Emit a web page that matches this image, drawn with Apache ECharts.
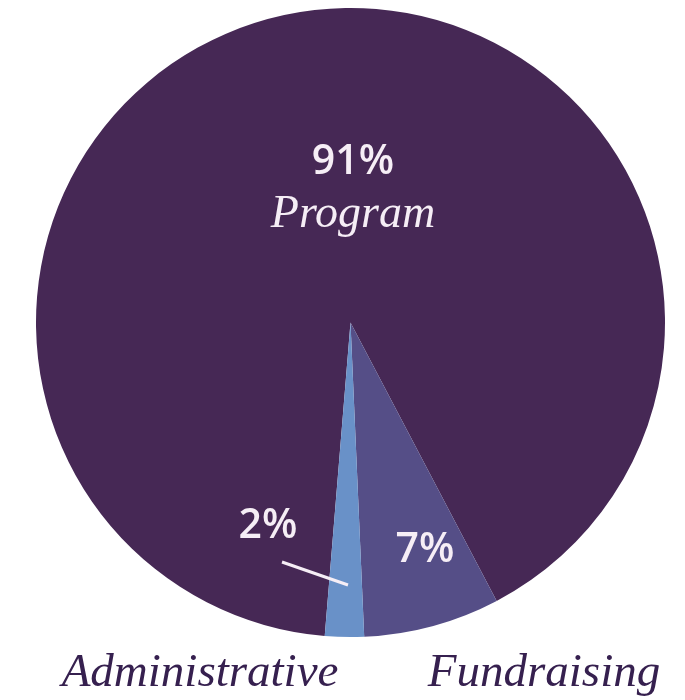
<!DOCTYPE html>
<html>
<head>
<meta charset="utf-8">
<script src="https://cdn.jsdelivr.net/npm/echarts@6/dist/echarts.min.js"></script>
<style>
    html, body { margin: 0; padding: 0; background: #fff; }
    #expensePie { width: 685px; height: 700px; }
</style>
</head>
<body>
<div id="expensePie"></div>
<script>
    // expense breakdown
    var categories = ['Program', 'Fundraising', 'Administrative'];
    var shares = [91, 7, 2];
    var sliceColors = ['#462855', '#554e87', '#6991c8'];

    var pieData = categories.map(function (name, i) {
        return {
            name: name,
            value: shares[i],
            itemStyle: { color: sliceColors[i] }
        };
    });

    // where each label sits (by data index)
    var pctSpots = [
        { x: 353, y: 187 },
        { x: 425, y: 550 },
        { x: 268, y: 526 }
    ];
    var nameSpots = [
        null,
        { x: 544, y: 674 },
        { x: 200, y: 674 }
    ];

    var chart = echarts.init(document.getElementById('expensePie'));
    chart.setOption({
        animation: false,
        graphic: [
            {
                // pointer from the 2% label to its thin slice
                type: 'line',
                shape: { x1: 282, y1: 562, x2: 348, y2: 585 },
                style: { stroke: '#f6eef6', lineWidth: 3 },
                z: 100
            }
        ],
        series: [
            {
                name: 'Expenses',
                type: 'pie',
                center: [350.5, 322.5],
                radius: 314.5,
                startAngle: 265.3,
                clockwise: true,
                avoidLabelOverlap: false,
                silent: true,
                itemStyle: { borderWidth: 0 },
                labelLine: { show: false },
                data: pieData,
                label: {
                    show: true,
                    position: 'outside',
                    formatter: function (p) {
                        if (p.dataIndex === 0) {
                            return '{pct|' + p.value + '%}\n{name|' + p.name + '}';
                        }
                        return '{pct|' + p.value + '%}';
                    },
                    rich: {
                        pct: {
                            fontFamily: 'Open Sans',
                            fontWeight: 600,
                            fontSize: 41,
                            color: '#f6eef6',
                            lineHeight: 56,
                            align: 'center'
                        },
                        name: {
                            fontFamily: 'Liberation Serif',
                            fontStyle: 'italic',
                            fontSize: 46,
                            color: '#f6eef6',
                            lineHeight: 50,
                            align: 'center'
                        }
                    }
                },
                labelLayout: function (p) {
                    var spot = pctSpots[p.dataIndex];
                    return {
                        x: spot.x,
                        y: spot.y,
                        align: 'center',
                        verticalAlign: 'middle'
                    };
                }
            },
            {
                name: 'Names',
                type: 'pie',
                center: [350.5, 322.5],
                radius: 314.5,
                startAngle: 265.3,
                clockwise: true,
                avoidLabelOverlap: false,
                silent: true,
                itemStyle: { color: 'rgba(0,0,0,0)', borderWidth: 0 },
                labelLine: { show: false },
                data: categories.map(function (name, i) {
                    return { name: name, value: shares[i] };
                }),
                label: {
                    show: true,
                    position: 'outside',
                    fontFamily: 'Liberation Serif',
                    fontStyle: 'italic',
                    fontSize: 47,
                    color: '#36204f',
                    formatter: function (p) {
                        return p.dataIndex === 0 ? '' : p.name;
                    }
                },
                labelLayout: function (p) {
                    var spot = nameSpots[p.dataIndex];
                    if (!spot) {
                        return { x: 0, y: 0 };
                    }
                    return {
                        x: spot.x,
                        y: spot.y,
                        align: 'center',
                        verticalAlign: 'middle'
                    };
                }
            }
        ]
    });
</script>
</body>
</html>
